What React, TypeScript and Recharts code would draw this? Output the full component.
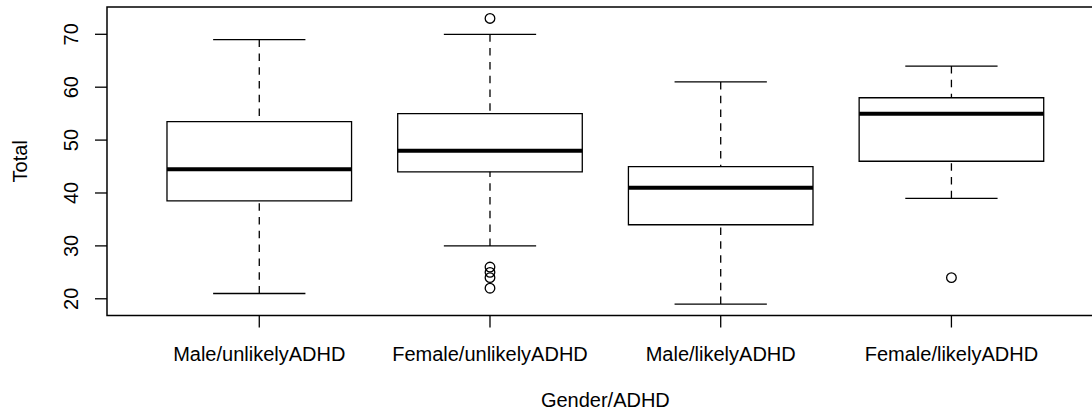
import React from 'react';
import { ComposedChart, XAxis, YAxis, Scatter, ReferenceArea, ReferenceLine } from 'recharts';

const categories = ['Male/unlikelyADHD', 'Female/unlikelyADHD', 'Male/likelyADHD', 'Female/likelyADHD'];
const lowerWhisker = [21, 30, 19, 39];
const q1 = [38.5, 44, 34, 46];
const median = [44.5, 48, 41, 55];
const q3 = [53.5, 55, 45, 58];
const upperWhisker = [69, 70, 61, 64];
const outliers: number[][] = [[], [73, 26, 25, 24, 22], [], [24]];
const yTicks = [20, 30, 40, 50, 60, 70];
const xTicks = [1, 2, 3, 4];
const xTitle = 'Gender/ADHD';
const yTitle = 'Total';

const FONT = '"Liberation Sans", Arial, Helvetica, sans-serif';
const X_DOMAIN: [number, number] = [0.34, 4.66];
const Y_DOMAIN: [number, number] = [16.84, 75.16];
const BOX_HALF = 0.4;
const CAP_HALF = 0.2;
const DASH = '7.5 6.3';

function XTick(props: any) {
  const { x, y, payload } = props;
  return (
    <text x={x} y={y + 33.5} textAnchor="middle" fontSize={20} fontFamily={FONT} fill="#000">
      {categories[payload.value - 1]}
    </text>
  );
}

function YTick(props: any) {
  const { x, y, payload } = props;
  const tx = x - 17;
  return (
    <text x={tx} y={y} transform={`rotate(-90 ${tx} ${y})`} textAnchor="middle" fontSize={20} fontFamily={FONT} fill="#000">
      {payload.value}
    </text>
  );
}

function XTitle(props: any) {
  const vb = props.viewBox || { x: 107, y: 315.5, width: 996.7, height: 99.5 };
  return (
    <text x={vb.x + vb.width / 2} y={vb.y + 91.5} textAnchor="middle" fontSize={20} fontFamily={FONT} fill="#000">
      {xTitle}
    </text>
  );
}

function YTitle(props: any) {
  const vb = props.viewBox || { x: 0, y: 7, width: 107, height: 308.5 };
  const tx = 27;
  const ty = vb.y + vb.height / 2;
  return (
    <text x={tx} y={ty} transform={`rotate(-90 ${tx} ${ty})`} textAnchor="middle" fontSize={20} fontFamily={FONT} fill="#000">
      {yTitle}
    </text>
  );
}

function OutlierShape(props: any) {
  const { cx, cy } = props;
  return <circle cx={cx} cy={cy} r={4.8} fill="none" stroke="#000" strokeWidth={1.3} />;
}

export default function App() {
  const outlierData = outliers.flatMap((vals, i) => vals.map((v) => ({ x: xTicks[i], y: v })));
  return (
    <div style={{ position: 'absolute', left: 0, top: 0, width: 1092, height: 415, overflow: 'hidden', background: '#fff' }}>
      <ComposedChart width={1110} height={415} margin={{ top: 7, right: 6.3, bottom: 0, left: 0 }}>
        <XAxis
          type="number"
          dataKey="x"
          domain={X_DOMAIN}
          allowDataOverflow
          ticks={xTicks}
          interval={0}
          height={99.5}
          tickSize={12}
          tickMargin={0}
          axisLine={false}
          tickLine={{ stroke: '#000', strokeWidth: 1.3 }}
          tick={<XTick />}
          label={<XTitle />}
        />
        <YAxis
          type="number"
          dataKey="y"
          domain={Y_DOMAIN}
          allowDataOverflow
          ticks={yTicks}
          interval={0}
          width={107}
          tickSize={12}
          tickMargin={0}
          axisLine={false}
          tickLine={{ stroke: '#000', strokeWidth: 1.3 }}
          tick={<YTick />}
          label={<YTitle />}
        />
        <ReferenceArea
          x1={X_DOMAIN[0]}
          x2={X_DOMAIN[1]}
          y1={Y_DOMAIN[0]}
          y2={Y_DOMAIN[1]}
          fill="none"
          stroke="#000"
          strokeWidth={1.5}
          ifOverflow="visible"
        />
        {categories.map((c, i) => {
          const x = xTicks[i];
          return [
            <ReferenceLine key={`uw${i}`} segment={[{ x, y: upperWhisker[i] }, { x, y: q3[i] }]} stroke="#000" strokeWidth={1.3} strokeDasharray={DASH} />,
            <ReferenceLine key={`lw${i}`} segment={[{ x, y: lowerWhisker[i] }, { x, y: q1[i] }]} stroke="#000" strokeWidth={1.3} strokeDasharray={DASH} />,
            <ReferenceLine key={`uc${i}`} segment={[{ x: x - CAP_HALF, y: upperWhisker[i] }, { x: x + CAP_HALF, y: upperWhisker[i] }]} stroke="#000" strokeWidth={1.3} />,
            <ReferenceLine key={`lc${i}`} segment={[{ x: x - CAP_HALF, y: lowerWhisker[i] }, { x: x + CAP_HALF, y: lowerWhisker[i] }]} stroke="#000" strokeWidth={1.3} />,
            <ReferenceArea key={`box${i}`} x1={x - BOX_HALF} x2={x + BOX_HALF} y1={q1[i]} y2={q3[i]} fill="#fff" fillOpacity={1} stroke="#000" strokeWidth={1.3} />,
            <ReferenceLine key={`med${i}`} segment={[{ x: x - BOX_HALF, y: median[i] }, { x: x + BOX_HALF, y: median[i] }]} stroke="#000" strokeWidth={4} />,
          ];
        })}
        <Scatter data={outlierData} dataKey="y" isAnimationActive={false} shape={<OutlierShape />} />
      </ComposedChart>
    </div>
  );
}
